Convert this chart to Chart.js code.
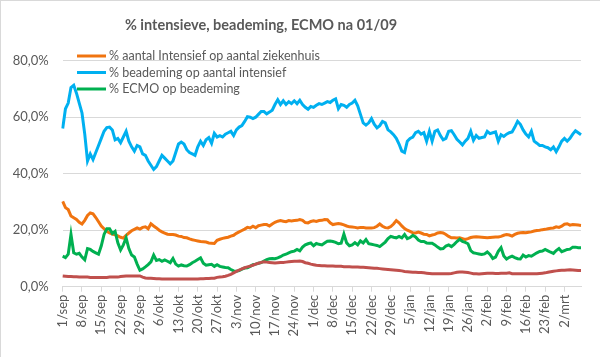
<!DOCTYPE html>
<html><head><meta charset="utf-8">
<script src="https://cdn.jsdelivr.net/npm/chart.js@4.4.0/dist/chart.umd.min.js"></script>
<style>html,body{margin:0;padding:0;background:#fff}#wrap{width:600px;height:357px;position:relative}</style>
</head><body><div id="wrap"><canvas id="c" width="600" height="357"></canvas></div>
<script>
const chartTitle = '% intensieve, beademing, ECMO na 01/09';
const monthNames = ['sep','okt','nov','dec','jan','feb','mrt'];
const monthDays = [30,31,30,31,31,28,8];
const categories = [];
monthNames.forEach((m, k) => { for (let d = 1; d <= monthDays[k]; d++) categories.push(d + '/' + m); });

const seriesLabels = ['% aantal Intensief op aantal ziekenhuis', '% beademing op aantal intensief', '% ECMO op beademing', ''];
const seriesColors = ['#F07410', '#00B0F0', '#00B050', '#C0504D'];

const intensiefOpZiekenhuis = [
30.2,28.0,27.3,25.0,24.4,23.8,22.8,22.2,23.5,25.2,
26.1,25.8,24.5,23.0,21.5,20.5,19.6,19.0,18.6,18.4,
18.0,17.5,17.2,18.2,19.0,19.8,20.3,20.8,20.4,21.0,
21.2,20.5,22.3,21.5,20.8,20.0,19.4,19.0,18.6,18.5,
18.5,18.3,17.9,17.8,17.4,17.3,16.9,16.6,16.4,16.2,
16.0,15.9,15.8,15.5,15.4,15.3,16.4,16.8,17.1,17.3,
17.5,17.9,18.2,18.9,19.4,19.9,20.4,21.0,20.8,21.4,
20.9,21.6,21.8,22.0,22.0,21.5,22.2,22.8,23.2,23.4,
23.2,23.0,23.4,23.3,23.4,23.5,23.8,23.5,22.7,22.6,
23.1,23.3,23.1,23.4,23.5,23.8,23.7,22.6,22.0,22.2,
22.4,22.2,21.9,21.5,21.2,21.1,21.0,20.8,21.0,21.0,
20.8,20.8,20.8,20.9,21.4,22.2,21.4,20.9,20.8,21.3,
22.2,23.4,22.6,21.5,20.6,20.0,19.6,19.1,19.0,19.3,
19.0,18.6,18.5,18.0,18.3,18.5,19.0,19.2,19.0,18.5,
17.8,17.3,17.3,17.2,17.3,17.0,16.7,17.0,17.4,17.6,
17.7,17.6,17.5,17.4,17.3,17.4,17.5,17.6,17.6,17.8,
18.2,18.5,18.3,17.9,18.5,18.9,19.1,19.2,19.1,19.3,
19.4,19.7,19.9,20.0,20.2,20.3,20.5,20.7,20.8,21.2,
21.0,21.4,22.1,22.3,21.8,22.0,21.9,21.8,21.7];

const beademingOpIntensief = [
56.0,63.0,65.0,70.5,71.3,68.5,65.0,61.5,54.0,44.5,
47.0,45.0,47.5,50.0,52.5,55.0,56.3,56.5,55.5,52.0,
52.5,51.0,53.0,55.0,51.5,49.5,48.0,50.0,49.5,47.0,
46.5,44.5,43.0,41.5,42.5,44.5,46.5,45.5,44.5,43.5,
44.5,47.5,50.5,51.2,50.5,48.5,47.5,47.0,46.5,49.5,
51.5,50.0,52.0,52.8,50.8,54.3,53.0,53.5,53.0,54.0,
54.5,55.0,53.5,55.5,56.5,57.0,58.5,60.2,60.0,59.5,
60.0,61.0,62.0,62.0,61.2,61.8,62.5,64.5,66.2,64.5,
65.8,64.5,65.5,64.8,65.8,64.8,66.0,64.5,63.5,62.8,
63.8,63.5,64.2,64.8,64.5,65.0,65.5,65.2,66.0,66.5,
63.0,64.5,64.2,63.5,64.5,65.0,66.0,64.0,61.0,58.0,
57.2,58.0,59.5,57.5,56.2,57.0,58.5,58.0,55.5,54.8,
53.8,52.5,50.5,48.0,47.5,51.5,52.5,53.0,54.5,55.0,
54.0,54.5,51.5,55.0,51.5,55.0,55.5,53.5,52.0,52.5,
55.0,55.2,53.8,52.2,51.2,50.2,51.5,52.5,55.0,51.8,
53.5,52.5,52.8,53.0,55.0,54.2,54.5,54.8,51.5,53.8,
53.2,54.0,54.5,54.8,56.5,58.5,57.5,55.5,54.0,53.0,
55.0,51.5,50.8,50.0,50.0,49.5,49.2,48.5,49.5,47.8,
49.5,51.5,52.5,51.5,52.5,54.0,55.2,54.5,53.8];

const ecmoOpBeademing = [
10.8,10.3,11.5,18.5,12.0,11.5,11.8,10.5,9.5,13.5,
13.2,12.5,12.0,11.5,14.5,18.5,20.5,20.5,18.8,19.6,
15.5,13.0,14.8,17.3,13.5,11.2,10.5,8.0,5.8,6.3,
7.0,7.8,8.8,11.2,9.3,9.6,9.0,9.5,9.0,8.5,
10.0,8.0,7.3,7.7,7.4,7.3,7.8,8.5,9.0,9.6,
10.2,8.3,7.6,7.8,7.9,7.2,7.8,7.2,7.0,6.8,
6.7,6.1,5.6,5.5,5.7,6.2,6.6,6.7,7.2,7.8,
8.0,8.3,8.5,9.1,9.6,9.9,10.0,9.9,10.2,10.6,
11.2,11.5,12.0,12.4,12.6,13.2,12.7,14.0,14.8,15.2,
15.5,14.5,15.3,15.0,14.8,15.5,16.1,16.2,16.0,15.7,
15.2,15.4,18.6,15.5,14.5,14.8,15.6,14.8,16.2,15.5,
16.7,15.2,15.0,14.8,14.6,14.2,15.0,15.8,17.0,17.8,
17.5,17.3,17.8,17.3,18.5,17.0,17.4,18.2,17.6,16.5,
16.0,16.0,15.5,15.4,15.4,14.8,14.0,13.4,13.5,14.4,
14.8,14.2,15.0,16.0,16.8,16.0,15.7,15.2,12.8,12.0,
11.8,11.6,11.4,11.6,12.3,11.4,10.0,10.5,12.5,13.8,
10.9,9.8,10.4,10.8,10.3,9.9,9.8,11.2,10.5,11.0,
10.8,11.4,12.0,12.5,12.6,13.2,12.7,12.2,11.8,12.8,
13.5,12.4,12.8,13.2,13.3,14.0,14.0,13.8,13.8];

const vierdeReeks = [
3.8,3.7,3.6,3.6,3.5,3.5,3.4,3.4,3.4,3.4,
3.3,3.3,3.3,3.3,3.3,3.3,3.3,3.4,3.4,3.4,
3.4,3.6,3.7,3.8,3.8,3.8,3.8,3.8,3.8,3.4,
3.1,3.0,3.0,2.9,2.8,2.8,2.7,2.7,2.7,2.7,
2.7,2.7,2.7,2.7,2.7,2.7,2.7,2.7,2.7,2.7,
2.8,2.8,2.9,2.9,3.0,3.0,3.3,3.4,3.5,3.7,
4.0,4.4,4.9,5.4,5.9,6.3,6.7,7.0,7.3,7.6,
8.0,8.3,8.6,8.8,8.7,8.6,8.5,8.4,8.5,8.6,
8.6,8.7,8.8,8.9,9.0,9.0,9.1,8.9,8.5,8.3,
8.0,7.8,7.6,7.5,7.4,7.4,7.3,7.3,7.3,7.2,
7.2,7.2,7.1,7.1,7.1,7.0,7.0,7.0,6.9,6.9,
6.8,6.7,6.6,6.5,6.5,6.4,6.3,6.2,6.1,6.0,
5.9,5.8,5.7,5.6,5.4,5.3,5.2,5.1,5.1,5.0,
5.0,4.9,4.8,4.7,4.6,4.6,4.6,4.6,4.6,4.6,
4.6,4.7,4.9,5.1,5.2,5.2,5.1,5.0,4.8,4.6,
4.6,4.5,4.6,4.7,4.8,4.8,4.8,4.7,4.7,4.8,
4.8,4.8,4.9,4.6,4.6,4.6,4.6,4.6,4.6,4.6,
4.6,4.6,4.6,4.7,4.8,4.9,5.1,5.3,5.5,5.6,
5.7,5.8,5.8,5.9,6.0,5.9,5.8,5.7,5.7];

const yTicks = [0, 20, 40, 60, 80];
const labelEvery = 7;

const FONT = 'Lato';
const TXT = '#595959';
const GRID = '#d9d9d9';

const decor = {
  id: 'decor',
  beforeDraw(chart) {
    const ctx = chart.ctx;
    ctx.save();
    ctx.fillStyle = '#fff';
    ctx.fillRect(0, 0, chart.width, chart.height);
    ctx.restore();
  },
  afterDraw(chart) {
    const ctx = chart.ctx;
    ctx.save();
    ctx.strokeStyle = GRID;
    ctx.lineWidth = 1;
    ctx.beginPath();
    ctx.moveTo(0, 0.5); ctx.lineTo(chart.width, 0.5);
    ctx.moveTo(0.5, 0); ctx.lineTo(0.5, chart.height);
    ctx.stroke();
    // title
    ctx.fillStyle = TXT;
    ctx.font = 'bold 14.5px ' + FONT;
    ctx.textAlign = 'center';
    ctx.textBaseline = 'middle';
    ctx.fillText(chartTitle, 261, 25);
    // legend
    const rows = [56, 72.5, 89];
    ctx.font = '12.5px ' + FONT;
    ctx.textAlign = 'left';
    for (let d = 0; d < 3; d++) {
      ctx.strokeStyle = chart.data.datasets[d].borderColor;
      ctx.lineWidth = 3;
      ctx.beginPath();
      ctx.moveTo(77, rows[d]); ctx.lineTo(106, rows[d]);
      ctx.stroke();
      ctx.fillStyle = TXT;
      ctx.fillText(chart.data.datasets[d].label, 109, rows[d]);
    }
    ctx.restore();
  }
};

const seriesData = [intensiefOpZiekenhuis, beademingOpIntensief, ecmoOpBeademing, vierdeReeks];

new Chart(document.getElementById('c'), {
  type: 'line',
  data: {
    labels: categories,
    datasets: seriesData.map((arr, k) => ({
      label: seriesLabels[k],
      data: arr,
      borderColor: seriesColors[k],
      backgroundColor: seriesColors[k],
      borderWidth: 3,
      pointRadius: 0,
      tension: 0,
      fill: false,
      order: 4 - k
    }))
  },
  options: {
    responsive: false,
    animation: false,
    devicePixelRatio: 1,
    layout: { padding: { top: 60.7, right: 19, left: 0, bottom: 0 } },
    plugins: { legend: { display: false }, title: { display: false }, tooltip: { enabled: false } },
    scales: {
      x: {
        type: 'category',
        offset: false,
        grid: { display: true, drawOnChartArea: false, drawTicks: true, tickLength: 5, color: GRID },
        border: { display: true, color: GRID },
        ticks: {
          autoSkip: false, maxRotation: 90, minRotation: 90, padding: 3,
          color: TXT, font: { family: FONT, size: 13 },
          callback: function (v, i) { return i % labelEvery === 0 ? this.getLabelForValue(v) : null; }
        },
        afterFit(s) { s.height = 70.3; }
      },
      y: {
        min: yTicks[0], max: yTicks[yTicks.length - 1],
        afterBuildTicks(s) { s.ticks = yTicks.map(v => ({ value: v })); },
        ticks: {
          padding: 14, color: TXT, font: { family: FONT, size: 13 },
          callback: v => v.toFixed(1).replace('.', ',') + '%'
        },
        grid: { color: GRID, drawTicks: false, lineWidth: 1 },
        border: { display: false },
        afterFit(s) { s.width = 62.7; }
      }
    }
  },
  plugins: [decor]
});
</script></body></html>
